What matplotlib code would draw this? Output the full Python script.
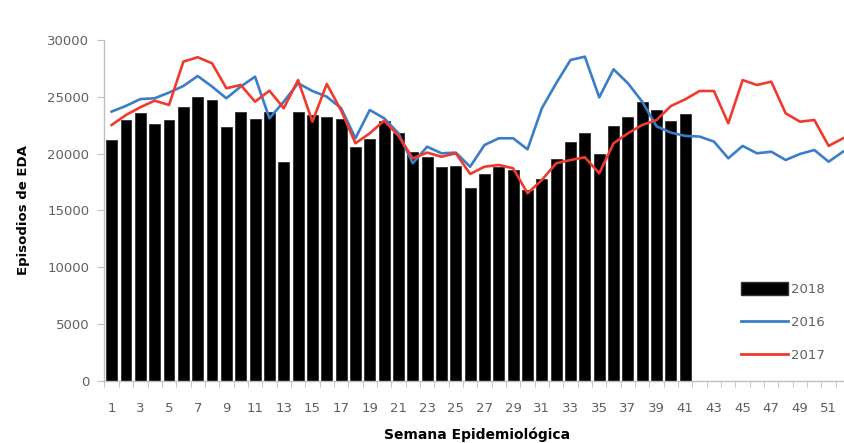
import matplotlib
matplotlib.use('Agg')
import matplotlib.pyplot as plt
import matplotlib.patches as mpatches
from matplotlib.lines import Line2D
from matplotlib.ticker import FixedLocator

plt.rcParams['font.family'] = ['DejaVu Sans']

weeks = list(range(1, 53))

# episodios semanales 2018 (semanas 1-41)
eda_2018 = [21200, 22950, 23550, 22580, 22950, 24140, 25000, 24700, 22370, 23690,
            23020, 23690, 19290, 23690, 23400, 23250, 23050, 20560, 21260, 22900,
            21790, 20170, 19730, 18800, 18950, 17010, 18180, 18800, 18560, 16800,
            17740, 19500, 21060, 21790, 19950, 22430, 23200, 24520, 23840, 22900,
            23460]

eda_2016 = [23700, 24200, 24800, 24870, 25370, 25950, 26830, 25900, 24870, 25900,
            26770, 23110, 24570, 26190, 25510, 25010, 24000, 21350, 23840, 23110,
            21790, 19150, 20610, 20030, 20090, 18850, 20760, 21350, 21350, 20380,
            23990, 26190, 28240, 28530, 24950, 27420, 26190, 24570, 22400, 21850,
            21560, 21500, 21060, 19590, 20680, 20030, 20170, 19440, 19970, 20320,
            19290, 20170]

eda_2017 = [22520, 23400, 24080, 24660, 24280, 28090, 28480, 27950, 25750, 26040,
            24570, 25540, 23990, 26470, 22810, 26130, 23800, 20910, 21790, 22900,
            21560, 19590, 20090, 19730, 20030, 18210, 18850, 19000, 18710, 16510,
            17680, 19150, 19440, 19680, 18270, 20910, 21790, 22520, 22960, 24190,
            24780, 25510, 25510, 22670, 26470, 26040, 26330, 23550, 22810, 22960,
            20680, 21350]

week_labels = [str(w) if w % 2 == 1 else '' for w in weeks]

BLUE = '#3a7dc9'
RED = '#f03a2e'
GREY = '#606060'
AXIS = '#bfbfbf'

fig = plt.figure(figsize=(8.44, 4.43), dpi=100)
# axes run a little past the right edge of the figure
ax = fig.add_axes([0.1238, 0.14, 0.8835, 0.7698])

ax.bar(weeks[:len(eda_2018)], eda_2018, width=0.76, color='black',
       edgecolor='#303030', linewidth=0.6, zorder=2)
ax.plot(weeks, eda_2016, color=BLUE, linewidth=1.9, zorder=3)
ax.plot(weeks, eda_2017, color=RED, linewidth=1.9, zorder=4)

ax.set_xlim(0.5, 52.5)
ax.set_ylim(0, 30000)
ax.set_yticks(range(0, 30001, 5000))
ax.set_yticklabels([str(v) for v in range(0, 30001, 5000)], color=GREY, fontsize=9.5)
ax.set_xticks(weeks)
ax.set_xticklabels(week_labels, color=GREY, fontsize=9.5)
ax.xaxis.set_minor_locator(FixedLocator([w + 0.5 for w in range(0, 53)]))
ax.tick_params(axis='x', which='major', length=0, pad=15)
ax.tick_params(axis='x', which='minor', length=4, color=AXIS, direction='out')
ax.tick_params(axis='y', length=5, color=AXIS, direction='out', pad=6)

for spine in ('top', 'right'):
    ax.spines[spine].set_visible(False)
for spine in ('bottom', 'left'):
    ax.spines[spine].set_color(AXIS)
    ax.spines[spine].set_linewidth(1.0)

ax.set_xlabel('Semana Epidemiológica', fontsize=10, fontweight='bold', color='black', labelpad=9)
ax.set_ylabel('Episodios de EDA', fontsize=9.5, fontweight='bold', color='black', labelpad=12)

handles = [
    mpatches.Patch(facecolor='black', edgecolor='#303030', label='2018'),
    Line2D([0], [0], color=BLUE, linewidth=2, label='2016'),
    Line2D([0], [0], color=RED, linewidth=2, label='2017'),
]
leg = ax.legend(handles=handles, loc='lower left', bbox_to_anchor=(0.846, 0.04),
                frameon=False, fontsize=9.5, handlelength=3.6, handleheight=1.1,
                handletextpad=0.2, labelspacing=1.45, borderaxespad=0)
for t in leg.get_texts():
    t.set_color(GREY)

# title sits mostly above the top edge
fig.text(0.502, 1 + 1.5 / 443, 'Perú 2016 - 2018', ha='center', va='baseline',
         fontsize=21, fontweight='bold', color='#404040')

fig.savefig('out.png', dpi=100)
